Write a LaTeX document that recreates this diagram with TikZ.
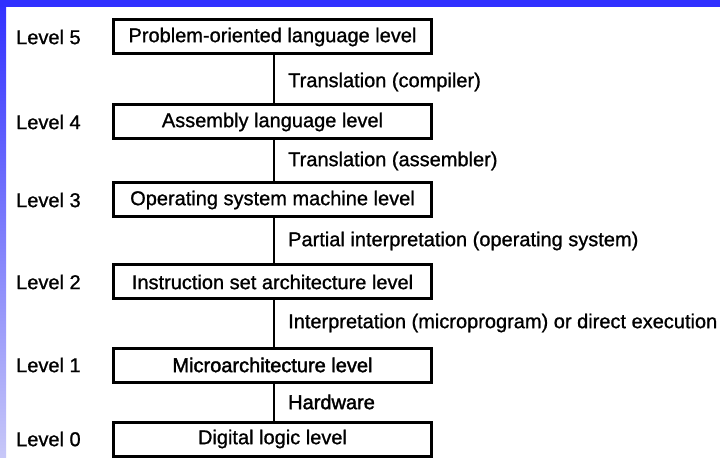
\documentclass[tikz,border=0pt]{standalone}
\usepackage{fontspec}
\setmainfont{Liberation Sans}
\newfontfamily\heavyfont{Liberation Sans}[FakeBold=1.0]
\newfontfamily\heavierfont{Liberation Sans}[FakeBold=1.8]
\definecolor{topblue}{HTML}{3030FF}
\definecolor{stripbot}{HTML}{C8C8F8}
\begin{document}
\begin{tikzpicture}[x=1bp,y=-1bp,
  lvbox/.style={draw=black,line width=3bp,minimum width=318.5bp,minimum height=34bp,inner sep=0pt,font=\heavyfont\fontsize{20bp}{24bp}\selectfont},
  lvlabel/.style={anchor=west,inner sep=0pt,font=\heavyfont\fontsize{20bp}{24bp}\selectfont},
  edgelabel/.style={anchor=west,inner sep=0pt,font=\heavyfont\fontsize{20bp}{24bp}\selectfont},
  link/.style={draw=black,line width=2.4bp}]
\useasboundingbox (0,0) rectangle (720,458);
\fill[white] (0,0) rectangle (720,458);
\shade[top color=topblue,bottom color=stripbot] (0,0) rectangle (6,458);
\fill[topblue] (0,0) rectangle (720,7);
% boxes
\node[lvbox] (b5) at (272.5,37) {Problem-oriented language level};
\node[lvbox] (b4) at (272.5,122) {Assembly language level};
\node[lvbox] (b3) at (272.5,200) {Operating system machine level};
\node[lvbox] (b2) at (272.5,282) {Instruction set architecture level};
\node[lvbox,font=\heavierfont\fontsize{20bp}{24bp}\selectfont] (b1) at (272.5,365) {Microarchitecture level};
\node[lvbox] (b0) at (272.5,439) {Digital logic level};
% level labels
\node[lvlabel] (l5) at (16,37) {Level 5};
\node[lvlabel] (l4) at (16,122) {Level 4};
\node[lvlabel] (l3) at (16,200) {Level 3};
\node[lvlabel] (l2) at (16,282) {Level 2};
\node[lvlabel] (l1) at (16,365) {Level 1};
\node[lvlabel] (l0) at (16,439) {Level 0};
% connectors
\draw[link] ([xshift=1.5bp]b5.south) -- ([xshift=1.5bp]b4.north);
\draw[link] ([xshift=1.5bp]b4.south) -- ([xshift=1.5bp]b3.north);
\draw[link] ([xshift=1.5bp]b3.south) -- ([xshift=1.5bp]b2.north);
\draw[link] ([xshift=1.5bp]b2.south) -- ([xshift=1.5bp]b1.north);
\draw[link] ([xshift=1.5bp]b1.south) -- ([xshift=1.5bp]b0.north);
% edge labels
\node[edgelabel] (e54) at (288,82) {Translation (compiler)};
\node[edgelabel] (e43) at (288,161) {Translation (assembler)};
\node[edgelabel] (e32) at (288,241) {Partial interpretation (operating system)};
\node[edgelabel] (e21) at (288,323) {Interpretation (microprogram) or direct execution};
\node[edgelabel,font=\heavierfont\fontsize{20bp}{24bp}\selectfont] (e10) at (288,402) {Hardware};
\end{tikzpicture}
\end{document}
